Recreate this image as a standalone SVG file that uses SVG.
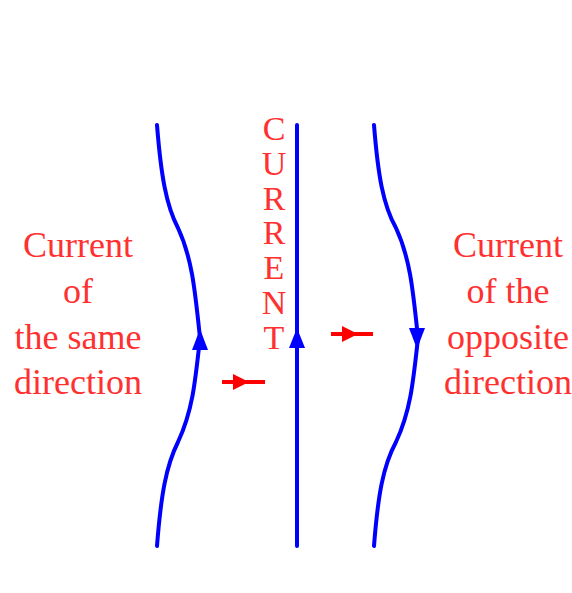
<svg xmlns="http://www.w3.org/2000/svg" width="572" height="593" viewBox="0 0 572 593">
<style>
.wire{fill:none;stroke:#0000ff;stroke-width:4;stroke-linecap:round}
.ah{fill:#0000ff}
.force{stroke:#ff0000;stroke-width:4;fill:none}
.fh{fill:#ff0000}
.lbl{font-family:"Liberation Serif","DejaVu Serif",serif;font-size:36px;fill:#ff3030;text-anchor:middle}
.vl{font-family:"Liberation Serif","DejaVu Serif",serif;font-size:34px;fill:#ff3030;text-anchor:middle}
</style>
<rect width="572" height="593" fill="#ffffff"/>
<g id="connectors">
<g id="wire-left">
<path class="wire" d="M157,125 C161,175 166,205 178,228 C192,258 195,290 200,338 C195,385 192,412 178,442 C166,466 161,495 157,546"/>
<polygon class="ah" points="200,329 192,350 208,350"/>
</g>
<g id="wire-middle">
<line class="wire" x1="297" y1="125" x2="297" y2="546"/>
<polygon class="ah" points="297,328 289,348 305,348"/>
</g>
<g id="wire-right">
<path class="wire" d="M374,125 C378,175 383,205 396,228 C410,258 413,290 418,338 C413,385 410,412 396,442 C383,466 378,495 374,546"/>
<polygon class="ah" points="417,349 409,328 425,328"/>
</g>
<g id="force-left">
<line class="force" x1="222" y1="382" x2="265" y2="382"/>
<polygon class="fh" points="249,382 233,374 233,390"/>
</g>
<g id="force-right">
<line class="force" x1="331" y1="334" x2="373" y2="334"/>
<polygon class="fh" points="358,334 342,326 342,342"/>
</g>
</g>
<g id="label-left">
<text class="lbl" x="78" y="257">Current</text>
<text class="lbl" x="78" y="303">of</text>
<text class="lbl" x="78" y="349">the same</text>
<text class="lbl" x="78" y="394">direction</text>
</g>
<g id="label-right">
<text class="lbl" x="508" y="257">Current</text>
<text class="lbl" x="508" y="303">of the</text>
<text class="lbl" x="508" y="349">opposite</text>
<text class="lbl" x="508" y="394">direction</text>
</g>
<g id="label-current">
<text class="vl" x="274" y="140">C</text>
<text class="vl" x="274" y="175">U</text>
<text class="vl" x="274" y="210">R</text>
<text class="vl" x="274" y="244">R</text>
<text class="vl" x="274" y="279">E</text>
<text class="vl" x="274" y="314">N</text>
<text class="vl" x="274" y="349">T</text>
</g>
</svg>
